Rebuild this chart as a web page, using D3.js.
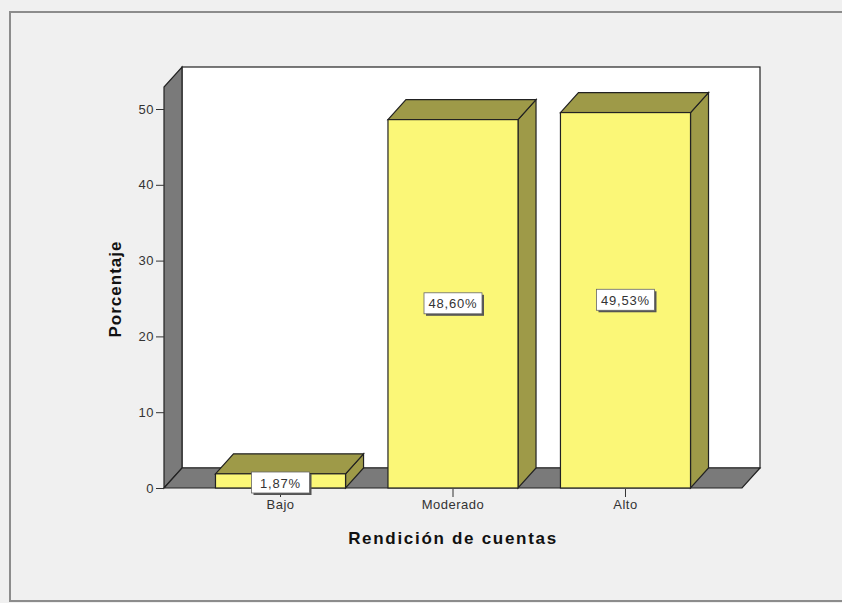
<!DOCTYPE html>
<html>
<head>
<meta charset="utf-8">
<script src="https://cdn.jsdelivr.net/npm/d3@7"></script>
<style>
  body { margin: 0; background: #f0f0f0; }
  svg { display: block; }
  .tick text { font-family: "Liberation Sans", Arial, sans-serif; font-size: 13px; letter-spacing: 0.5px; fill: #333; }
  .tick line { stroke: #333; }
</style>
</head>
<body>
<svg id="chart" width="842" height="603"></svg>
<script>
var categories = ["Bajo", "Moderado", "Alto"];
var values = [1.87, 48.60, 49.53];
var valueLabels = ["1,87%", "48,60%", "49,53%"];
var yTicks = [0, 10, 20, 30, 40, 50];

var svg = d3.select("#chart");
var width = 842, height = 603;

// front plane of the plot and the 3d offset
var left = 164, right = 742, floor = 488, wallTop = 87;
var dx = 18, dy = 20;

var wallColor = "#7a7a7a", edgeColor = "#222";
var barFront = "#fbf777", barDark = "#9e9a48";

svg.append("rect")
  .attr("width", width).attr("height", height)
  .attr("fill", "#f0f0f0");

// outer frame
svg.append("rect")
  .attr("x", 10).attr("y", 12)
  .attr("width", 850).attr("height", 589)
  .attr("fill", "none")
  .attr("stroke", "#8c8c8c")
  .attr("stroke-width", 2);

var xScale = d3.scaleBand()
  .domain(categories)
  .range([left, right])
  .paddingInner(0.246)
  .paddingOuter(0.2985);

var yScale = d3.scaleLinear()
  .domain([0, 50])
  .range([floor, 109]);

function pts(a){ return a.map(function(p){ return p.join(","); }).join(" "); }

// back wall
svg.append("rect")
  .attr("x", left + dx).attr("y", wallTop - dy)
  .attr("width", right - left).attr("height", floor - wallTop)
  .attr("fill", "#fff")
  .attr("stroke", edgeColor).attr("stroke-width", 1.2);

// left wall
svg.append("polygon")
  .attr("points", pts([[left, floor], [left, wallTop], [left + dx, wallTop - dy], [left + dx, floor - dy]]))
  .attr("fill", wallColor)
  .attr("stroke", edgeColor).attr("stroke-width", 1.2);

// floor
svg.append("polygon")
  .attr("points", pts([[left, floor], [left + dx, floor - dy], [right + dx, floor - dy], [right, floor]]))
  .attr("fill", wallColor)
  .attr("stroke", edgeColor).attr("stroke-width", 1.2);

// bars
var bars = svg.selectAll(".bar")
  .data(values)
  .enter().append("g")
  .attr("class", "bar");

bars.append("polygon")
  .attr("points", function(d, i){
    var x = xScale(categories[i]), w = xScale.bandwidth(), y = yScale(d);
    return pts([[x + w, y], [x + w + dx, y - dy], [x + w + dx, floor - dy], [x + w, floor]]);
  })
  .attr("fill", barDark)
  .attr("stroke", edgeColor).attr("stroke-width", 1.2);

bars.append("polygon")
  .attr("points", function(d, i){
    var x = xScale(categories[i]), w = xScale.bandwidth(), y = yScale(d);
    return pts([[x, y], [x + dx, y - dy], [x + w + dx, y - dy], [x + w, y]]);
  })
  .attr("fill", barDark)
  .attr("stroke", edgeColor).attr("stroke-width", 1.2);

bars.append("rect")
  .attr("x", function(d, i){ return xScale(categories[i]); })
  .attr("y", function(d){ return yScale(d); })
  .attr("width", xScale.bandwidth())
  .attr("height", function(d){ return floor - yScale(d); })
  .attr("fill", barFront)
  .attr("stroke", edgeColor).attr("stroke-width", 1.2);

// axes
var yAxis = d3.axisLeft(yScale).tickValues(yTicks).tickSize(8).tickPadding(2);
svg.append("g")
  .attr("transform", "translate(" + left + ",0)")
  .call(yAxis)
  .call(function(g){ g.select(".domain").remove(); });

var xAxis = d3.axisBottom(xScale).tickSize(8).tickPadding(3);
svg.append("g")
  .attr("transform", "translate(0," + (floor + 1) + ")")
  .call(xAxis)
  .call(function(g){ g.select(".domain").remove(); });

// value labels
var labels = svg.selectAll(".vlabel")
  .data(values)
  .enter().append("g")
  .attr("class", "vlabel")
  .attr("transform", function(d, i){
    var cx = xScale(categories[i]) + xScale.bandwidth() / 2;
    var cy = (yScale(d) + floor) / 2;
    if (cy > floor - 12) cy = floor - 5;
    return "translate(" + cx + "," + cy + ")";
  });

labels.append("rect")
  .attr("x", -27).attr("y", -9)
  .attr("width", 58).attr("height", 21)
  .attr("fill", "#555");

labels.append("rect")
  .attr("x", -29).attr("y", -11)
  .attr("width", 58).attr("height", 21)
  .attr("fill", "#fff")
  .attr("stroke", "#666").attr("stroke-width", 0.8);

labels.append("text")
  .attr("x", 0).attr("y", 0)
  .attr("text-anchor", "middle")
  .attr("dominant-baseline", "central")
  .style("font-family", "'Liberation Sans', Arial, sans-serif")
  .style("font-size", "13px")
  .style("letter-spacing", "0.8px")
  .style("fill", "#333")
  .text(function(d, i){ return valueLabels[i]; });

// axis titles
svg.append("text")
  .attr("transform", "translate(121,289) rotate(-90)")
  .attr("text-anchor", "middle")
  .style("font-family", "'Liberation Sans', Arial, sans-serif")
  .style("font-size", "17px")
  .style("font-weight", "bold")
  .style("letter-spacing", "1px")
  .style("fill", "#111")
  .text("Porcentaje");

svg.append("text")
  .attr("x", 453).attr("y", 544)
  .attr("text-anchor", "middle")
  .style("font-family", "'Liberation Sans', Arial, sans-serif")
  .style("font-size", "17px")
  .style("font-weight", "bold")
  .style("letter-spacing", "1.7px")
  .style("fill", "#111")
  .text("Rendición de cuentas");
</script>
</body>
</html>
